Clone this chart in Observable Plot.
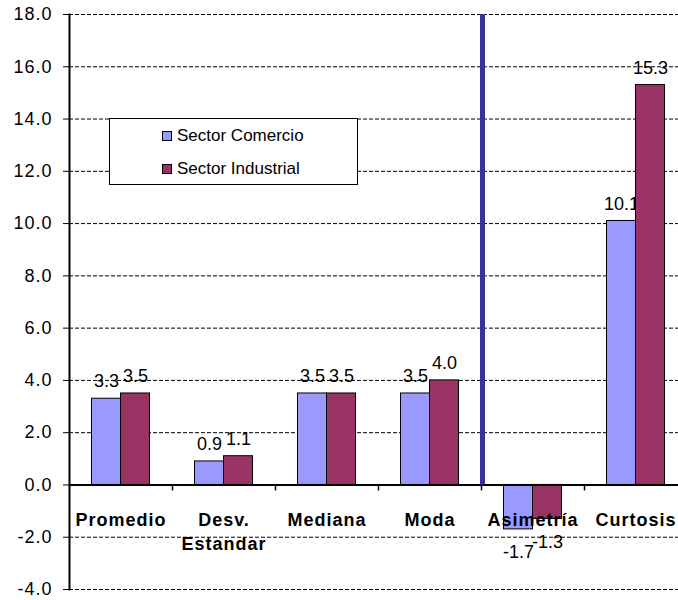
<!DOCTYPE html>
<html>
<head>
<meta charset="utf-8">
<script src="https://cdn.jsdelivr.net/npm/d3@7"></script>
<script src="https://cdn.jsdelivr.net/npm/@observablehq/plot@0.6"></script>
<style>
  html, body { margin: 0; padding: 0; background: #fff; overflow: hidden; }
  #wrap { position: relative; width: 678px; height: 600px; font-family: "Liberation Sans", Arial, sans-serif; }
  #legend { position: absolute; left: 109px; top: 118px; width: 249px; height: 67px; box-sizing: border-box;
            border: 1.5px solid #000; background: #fff; }
  .row { position: absolute; left: 52px; height: 20px; display: flex; align-items: center; font-size: 17px; color: #000; white-space: nowrap; }
  .sw { width: 8px; height: 8px; border: 1px solid #000; margin-right: 5px; }
</style>
</head>
<body>
<div id="wrap"></div>
<script>
const categories = ["Promedio", "Desv.\nEstandar", "Mediana", "Moda", "Asimetría", "Curtosis"];
const comercio   = [3.3, 0.9, 3.5, 3.5, -1.7, 10.1];
const industrial = [3.5, 1.1, 3.5, 4.0, -1.3, 15.3];
const seriesNames = ["Sector Comercio", "Sector Industrial"];
const seriesColors = ["#9999FF", "#993366"];
const yTicks = [-4, -2, 0, 2, 4, 6, 8, 10, 12, 14, 16, 18];

const dataC = categories.map((c, i) => ({cat: c, v: comercio[i]}));
const dataI = categories.map((c, i) => ({cat: c, v: industrial[i]}));

const W = 678, H = 600, ML = 69, MR = -9, MT = 14, MB = 11;
const bw = (W - ML - MR) / categories.length;
const font = "'Liberation Sans', Arial, sans-serif";

function valueLabels(data, dx) {
  return [
    Plot.text(data.filter(d => d.v >= 0), {x: "cat", y: "v", text: d => d.v.toFixed(1), dx, dy: -17, lineAnchor: "middle", fontSize: 18, fill: "#000"}),
    Plot.text(data.filter(d => d.v < 0), {x: "cat", y: "v", text: d => d.v.toFixed(1), dx, dy: 23, lineAnchor: "middle", fontSize: 18, fill: "#000"})
  ];
}

const chart = Plot.plot({
  width: W, height: H,
  marginLeft: ML, marginRight: MR, marginTop: MT, marginBottom: MB,
  style: {fontFamily: font, background: "#fff", overflow: "visible", maxWidth: "none"},
  x: {domain: categories, padding: 0, axis: null},
  y: {domain: [-4, 18], axis: null},
  marks: [
    Plot.ruleY(yTicks.filter(t => t !== 0), {y: d => d, stroke: "#000", strokeWidth: 1, strokeDasharray: "4,2"}),
    Plot.barY(dataC, {x: "cat", y: "v", fill: seriesColors[0], stroke: "#000", strokeWidth: 1, insetLeft: 22.5, insetRight: 51.5}),
    ...valueLabels(dataC, -14.5),
    Plot.barY(dataI, {x: "cat", y: "v", fill: seriesColors[1], stroke: "#000", strokeWidth: 1, insetLeft: 51.5, insetRight: 22.5}),
    ...valueLabels(dataI, 14.5),
    Plot.ruleY([0], {stroke: "#000", strokeWidth: 2}),
    Plot.ruleX(categories.slice(1), {x: d => d, dx: -bw / 2, y1: 0, y2: -0.23, stroke: "#000", strokeWidth: 1.5}),
    Plot.axisY({ticks: yTicks, tickFormat: d => d.toFixed(1), tickSize: 6, tickPadding: 11, fontSize: 18, label: null, stroke: "#000", strokeWidth: 1, fill: "#000"}),
    Plot.frame({anchor: "left", stroke: "#000", strokeWidth: 2}),
    Plot.ruleX(["Asimetría"], {x: d => d, dx: -bw / 2 + 1, y1: 0, y2: 18, stroke: "#333399", strokeWidth: 5}),
    Plot.text(categories, {x: d => d, text: d => d, frameAnchor: "bottom", dy: -80, lineAnchor: "top", lineHeight: 1.3, fontSize: 18, fontWeight: "bold", fill: "#000"})
  ]
});

const wrap = document.getElementById("wrap");
wrap.appendChild(chart);

// widen glyph spacing to mimic the stretched reference text
d3.select(chart).selectAll('g[aria-label="y-axis tick label"] text').style("letter-spacing", "1px");
d3.select(chart).selectAll('g[aria-label="text"]').filter((d, i, n) => i === n.length - 1).selectAll("text").style("letter-spacing", "1px");

const legend = document.createElement("div");
legend.id = "legend";
seriesNames.forEach((name, i) => {
  const row = document.createElement("div");
  row.className = "row";
  row.style.top = (i === 0 ? 7 : 40) + "px";
  const sw = document.createElement("div");
  sw.className = "sw";
  sw.style.background = seriesColors[i];
  row.appendChild(sw);
  row.appendChild(document.createTextNode(name));
  legend.appendChild(row);
});
wrap.appendChild(legend);
</script>
</body>
</html>
